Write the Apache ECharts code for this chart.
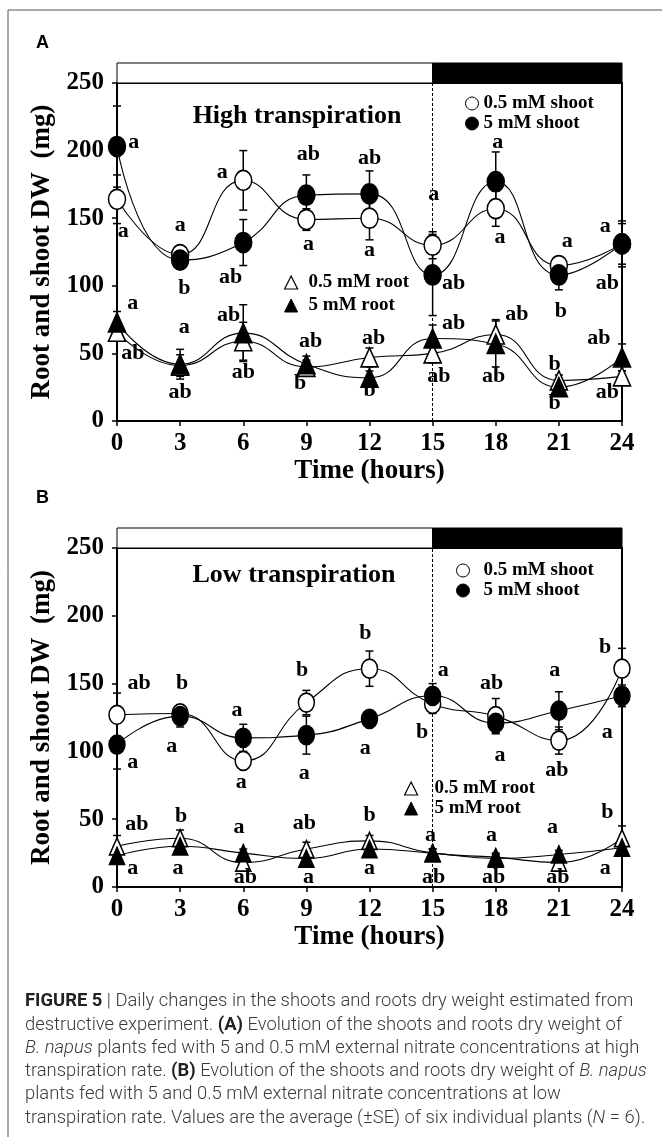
<!DOCTYPE html>
<html><head><meta charset="utf-8">
<script src="https://cdn.jsdelivr.net/npm/echarts@6/dist/echarts.min.js"></script>
<style>html,body{margin:0;padding:0;background:#fff}#c{width:662px;height:1147px}</style>
</head><body><div id="c"></div>
<script>
// ---------- data ----------
const hours = [0, 3, 6, 9, 12, 15, 18, 21, 24];
const yTicks = [0, 50, 100, 150, 200, 250];

// Panel A: high transpiration
const highShoot05 = [164, 123, 178, 149, 150, 130, 157, 115, 131];
const highShoot05Err = [18, 4, 22, 8, 16, 10, 13, 4, 15];
const highShoot5 = [203, 119, 132, 167, 168, 108, 177, 108, 131];
const highShoot5Err = [30, 5, 17, 15, 17, 30, 22, 11, 17];
const highRoot05 = [66, 41, 59, 40, 47, 50, 64, 30, 33];
const highRoot05Err = [6, 8, 14, 5, 7, 7, 11, 4, 4];
const highRoot5 = [73, 42, 65, 42, 32, 61, 57, 25, 47];
const highRoot5Err = [8, 11, 21, 6, 5, 10, 17, 5, 10];

// Panel B: low transpiration
const lowShoot05 = [127, 128, 93, 136, 161, 135, 126, 108, 161];
const lowShoot05Err = [16, 6, 6, 9, 13, 7, 13, 10, 15];
const lowShoot5 = [105, 126, 110, 112, 124, 141, 121, 130, 141];
const lowShoot5Err = [18, 8, 10, 14, 5, 9, 7, 14, 8];
const lowRoot05 = [30, 36, 18, 28, 34, 25, 22, 18, 36];
const lowRoot05Err = [8, 6, 3, 5, 4, 3, 3, 3, 9];
const lowRoot5 = [23, 30, 25, 21, 28, 25, 21, 24, 29];
const lowRoot5Err = [5, 4, 3, 3, 3, 3, 3, 3, 3];

// light / dark period bar (hours)
const periods = [[0, 15], [15, 24]];
const periodKind = ['light', 'dark'];
const darkStart = 15;

// significance letters [hour, value, letter]
const lettersHigh = [
  [0.8, 206, 'a'], [0.3, 140, 'a'], [3.0, 145, 'a'], [3.2, 98, 'b'], [5.0, 184, 'a'], [5.4, 106, 'ab'],
  [9.1, 197, 'ab'], [9.1, 131, 'a'], [12.0, 194, 'ab'], [12.0, 126, 'a'], [15.05, 168, 'a'], [16.0, 102, 'ab'],
  [18.1, 206, 'a'], [18.2, 136, 'a'], [21.4, 133, 'a'], [21.1, 81, 'b'], [23.2, 144, 'a'], [23.3, 102, 'ab'],
  [0.75, 87, 'a'], [0.75, 50, 'ab'], [3.2, 69, 'a'], [3.0, 21, 'ab'], [5.3, 78, 'ab'], [6.0, 36, 'ab'],
  [9.2, 59, 'ab'], [8.7, 28, 'b'], [12.2, 61, 'ab'], [12.0, 23, 'b'], [16.0, 72, 'ab'], [15.3, 33, 'ab'],
  [19.0, 79, 'ab'], [17.9, 33, 'ab'], [20.8, 42, 'b'], [20.8, 13, 'b'], [22.9, 61, 'ab'], [23.3, 21, 'ab']
];
const lettersLow = [
  [1.05, 150, 'ab'], [3.1, 150, 'b'], [5.7, 130, 'a'], [8.8, 160, 'b'], [11.8, 187, 'b'], [15.5, 160, 'a'],
  [17.8, 150, 'ab'], [20.8, 160, 'a'], [23.2, 177, 'b'], [14.5, 114, 'b'], [23.3, 114, 'a'],
  [0.75, 92, 'a'], [2.6, 104, 'a'], [5.9, 77, 'a'], [8.9, 84, 'a'], [11.8, 102, 'a'], [18.2, 97, 'a'], [20.9, 86, 'ab'],
  [0.95, 46, 'ab'], [3.05, 52, 'b'], [5.8, 44, 'a'], [8.9, 47, 'ab'], [12.0, 53, 'b'], [14.9, 38, 'a'],
  [17.8, 38, 'a'], [20.7, 44, 'a'], [23.3, 55, 'b'],
  [0.75, 14, 'a'], [2.9, 14, 'a'], [6.1, 7, 'ab'], [9.1, 7, 'a'], [12.0, 14, 'a'], [15.05, 7, 'ab'],
  [17.9, 7, 'ab'], [20.95, 7, 'ab'], [23.2, 14, 'a']
];

const panelTitles = ['High transpiration', 'Low transpiration'];
const captionLines = [
  '{b|FIGURE 5} | Daily changes in the shoots and roots dry weight estimated from',
  'destructive experiment. {b|(A)} Evolution of the shoots and roots dry weight of',
  '{i|B. napus} plants fed with 5 and 0.5 mM external nitrate concentrations at high',
  'transpiration rate. {b|(B)} Evolution of the shoots and roots dry weight of {i|B. napus}',
  'plants fed with 5 and 0.5 mM external nitrate concentrations at low',
  'transpiration rate. Values are the average (\u00B1SE) of six individual plants ({i|N} = 6).'
];

// ---------- chart ----------
const SERIF = '"Liberation Serif","Times New Roman",serif';
const SANS = 'Roboto,"Liberation Sans",sans-serif';
const CAP = 18.4;
const chart = echarts.init(document.getElementById('c'));

function lineSeries(name, vals, idx, symbol, fill, size) {
  return {
    type: 'line', name: name, xAxisIndex: idx, yAxisIndex: idx,
    data: hours.map((h, i) => [h, vals[i]]),
    smooth: 0.5, symbol: symbol, symbolSize: size, showAllSymbol: true,
    itemStyle: { color: fill, borderColor: '#000', borderWidth: 1.6 },
    lineStyle: { color: '#000', width: 1.1 },
    z: 5, animation: false
  };
}
function errSeries(vals, errs, idx) {
  return {
    type: 'custom', xAxisIndex: idx, yAxisIndex: idx, silent: true, animation: false, z: 3,
    data: hours.map((h, i) => [h, vals[i], errs[i]]),
    renderItem: function (p, api) {
      const x = api.value(0), y = api.value(1), e = api.value(2);
      const t = api.coord([x, y + e]), b = api.coord([x, y - e]);
      const w = 4, st = { stroke: '#000', lineWidth: 1.5 };
      return { type: 'group', children: [
        { type: 'line', shape: { x1: t[0], y1: t[1], x2: b[0], y2: b[1] }, style: st },
        { type: 'line', shape: { x1: t[0] - w, y1: t[1], x2: t[0] + w, y2: t[1] }, style: st },
        { type: 'line', shape: { x1: b[0] - w, y1: b[1], x2: b[0] + w, y2: b[1] }, style: st }
      ] };
    }
  };
}
function letterSeries(list, idx) {
  return {
    type: 'custom', xAxisIndex: idx, yAxisIndex: idx, silent: true, animation: false, z: 6,
    clip: false,
    data: list.map(d => [d[0], d[1]]),
    renderItem: function (p, api) {
      const c = api.coord([api.value(0), api.value(1)]);
      return { type: 'text', x: c[0], y: c[1], style: {
        text: list[p.dataIndex][2], font: 'bold 22px ' + SERIF, fill: '#000',
        align: 'center', verticalAlign: 'middle' } };
    }
  };
}
function periodSeries(idx) {
  return {
    type: 'custom', xAxisIndex: idx, yAxisIndex: idx, silent: true, animation: false,
    data: periods.map((p, i) => [p[0], p[1], i]),
    renderItem: function (p, api) {
      const a = api.coord([api.value(0), 1]), b = api.coord([api.value(1), 0]);
      const dark = periodKind[p.dataIndex] === 'dark';
      return { type: 'rect', shape: { x: a[0], y: a[1], width: b[0] - a[0], height: b[1] - a[1] },
        style: { fill: dark ? '#000' : '#fff', stroke: '#000', lineWidth: 1 } };
    }
  };
}
function xAxisMain(idx) {
  return {
    type: 'value', gridIndex: idx, min: 0, max: 24, interval: 3,
    axisLine: { show: true, lineStyle: { color: '#000', width: 2 } },
    axisTick: { show: true, length: 5, lineStyle: { color: '#000', width: 1.5 } },
    axisLabel: { color: '#000', fontFamily: SERIF, fontWeight: 'bold', fontSize: 25, margin: 10 },
    splitLine: { show: false },
    name: 'Time (hours)', nameLocation: 'middle', nameGap: 37,
    nameTextStyle: { color: '#000', fontFamily: SERIF, fontWeight: 'bold', fontSize: 27 }
  };
}
function yAxisMain(idx) {
  return {
    type: 'value', gridIndex: idx, min: yTicks[0], max: yTicks[yTicks.length - 1], interval: yTicks[1] - yTicks[0],
    axisLine: { show: true, lineStyle: { color: '#000', width: 2 } },
    axisTick: { show: true, length: 5, lineStyle: { color: '#000', width: 1.5 } },
    axisLabel: { color: '#000', fontFamily: SERIF, fontWeight: 'bold', fontSize: 25, margin: 13 },
    splitLine: { show: false },
    name: 'Root and shoot DW  (mg)', nameLocation: 'middle', nameGap: 47,
    nameTextStyle: { color: '#000', fontFamily: SERIF, fontWeight: 'bold', fontSize: 27 }
  };
}
function hiddenX(idx) { return { type: 'value', gridIndex: idx, min: 0, max: 24, show: false }; }
function hiddenY(idx) { return { type: 'value', gridIndex: idx, min: 0, max: 1, show: false }; }

function legendBlock(left, top, items, gap, textPad) {
  return {
    orient: 'vertical', left: left, top: top, itemGap: gap, itemWidth: 13, itemHeight: 13,
    selectedMode: false, padding: 0,
    textStyle: { color: '#000', fontFamily: SERIF, fontWeight: 'bold', fontSize: 19, padding: [0, 0, 0, textPad] },
    data: items
  };
}
const openCircle = { icon: 'circle', itemStyle: { color: '#fff', borderColor: '#000', borderWidth: 1 } };
const fullCircle = { icon: 'circle', itemStyle: { color: '#000', borderColor: '#000', borderWidth: 1 } };
const openTri = { icon: 'triangle', itemStyle: { color: '#fff', borderColor: '#000', borderWidth: 1.2 } };
const fullTri = { icon: 'triangle', itemStyle: { color: '#000', borderColor: '#000', borderWidth: 1 } };

const dashLine = {
  silent: true, symbol: 'none', label: { show: false },
  lineStyle: { color: '#000', type: [3, 2], width: 1 },
  data: [{ xAxis: darkStart }]
};

const sA = [
  lineSeries('0.5 mM shoot', highShoot05, 0, 'circle', '#fff', [17, 20]),
  lineSeries('5 mM shoot', highShoot5, 0, 'circle', '#000', [17, 20]),
  lineSeries('0.5 mM root', highRoot05, 0, 'triangle', '#fff', [17, 19]),
  lineSeries('5 mM root', highRoot5, 0, 'triangle', '#000', [17, 19])
];
sA[0].markLine = dashLine;
const sB = [
  lineSeries('0.5 mM shoot', lowShoot05, 1, 'circle', '#fff', [16, 19]),
  lineSeries('5 mM shoot', lowShoot5, 1, 'circle', '#000', [16, 19]),
  lineSeries('0.5 mM root', lowRoot05, 1, 'triangle', '#fff', [15, 17]),
  lineSeries('5 mM root', lowRoot5, 1, 'triangle', '#000', [15, 17])
];
sB[0].markLine = dashLine;

const capStyle = (extra) => Object.assign({ fontFamily: SANS, fontSize: CAP, fontWeight: 300, fill: '#3a3a3a', lineHeight: 23.3 }, extra);

const option = {
  backgroundColor: '#fff',
  animation: false,
  grid: [
    { left: 117, top: 83, width: 505, height: 338, show: true, borderColor: '#000', borderWidth: 2 },
    { left: 117, top: 548, width: 505, height: 339, show: true, borderColor: '#000', borderWidth: 2 },
    { left: 117, top: 63, width: 505, height: 20 },
    { left: 117, top: 528, width: 505, height: 20 }
  ],
  xAxis: [xAxisMain(0), xAxisMain(1), hiddenX(2), hiddenX(3)],
  yAxis: [yAxisMain(0), yAxisMain(1), hiddenY(2), hiddenY(3)],
  legend: [
    legendBlock(465, 94, [Object.assign({ name: '0.5 mM shoot' }, openCircle), Object.assign({ name: '5 mM shoot' }, fullCircle)], 1, 0),
    legendBlock(284, 273, [Object.assign({ name: '0.5 mM root' }, openTri), Object.assign({ name: '5 mM root' }, fullTri)], 4, 6),
    legendBlock(456, 561, [Object.assign({ name: '0.5 mM shoot' }, openCircle), Object.assign({ name: '5 mM shoot' }, fullCircle)], 1, 9),
    legendBlock(404, 779, [Object.assign({ name: '0.5 mM root' }, openTri), Object.assign({ name: '5 mM root' }, fullTri)], 1, 12)
  ],
  series: [
    periodSeries(2), periodSeries(3),
    errSeries(highShoot05, highShoot05Err, 0), errSeries(highShoot5, highShoot5Err, 0),
    errSeries(highRoot05, highRoot05Err, 0), errSeries(highRoot5, highRoot5Err, 0),
    errSeries(lowShoot05, lowShoot05Err, 1), errSeries(lowShoot5, lowShoot5Err, 1),
    errSeries(lowRoot05, lowRoot05Err, 1), errSeries(lowRoot5, lowRoot5Err, 1),
    ...sA, ...sB,
    letterSeries(lettersHigh, 0), letterSeries(lettersLow, 1)
  ],
  graphic: [
    { type: 'line', shape: { x1: 8, y1: 10, x2: 662, y2: 10 }, style: { stroke: '#555', lineWidth: 1 } },
    { type: 'line', shape: { x1: 8, y1: 10, x2: 8, y2: 1137 }, style: { stroke: '#555', lineWidth: 1 } },
    { type: 'text', x: 36, y: 43, style: { text: 'A', font: 'bold 18px "Liberation Sans",sans-serif', fill: '#000', verticalAlign: 'middle' } },
    { type: 'text', x: 36, y: 498, style: { text: 'B', font: 'bold 18px "Liberation Sans",sans-serif', fill: '#000', verticalAlign: 'middle' } },
    { type: 'text', x: 297, y: 116, style: { text: panelTitles[0], font: 'bold 26px ' + SERIF, fill: '#000', align: 'center', verticalAlign: 'middle' } },
    { type: 'text', x: 294, y: 575, style: { text: panelTitles[1], font: 'bold 26px ' + SERIF, fill: '#000', align: 'center', verticalAlign: 'middle' } },
    { type: 'text', x: 25, y: 990, style: Object.assign(capStyle({}), {
      text: captionLines.join('\n'),
      rich: {
        b: capStyle({ fontWeight: 'bold', fill: '#222' }),
        i: capStyle({ fontStyle: 'italic' })
      } }) }
  ]
};
chart.setOption(option);
</script></body></html>
